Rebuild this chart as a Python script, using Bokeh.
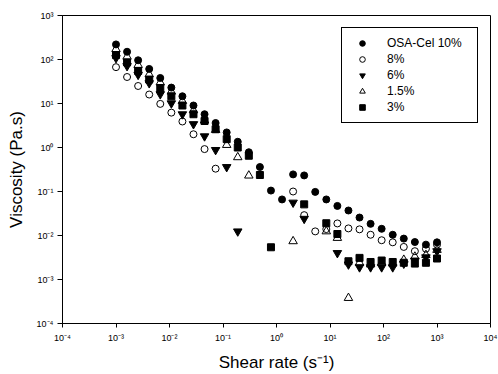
import numpy as np
from bokeh.plotting import figure
from bokeh.models import (Range1d, FixedTicker, CustomJSTickFormatter, Legend,
                          LegendItem, ColumnDataSource)
from bokeh.embed import file_html
from bokeh.resources import INLINE

# ---- data ----
shear_rate = [0.001, 0.00161, 0.002593, 0.004175, 0.006723, 0.010826, 0.017433,
              0.028072, 0.045204, 0.07279, 0.11721, 0.188739, 0.30392, 0.48939,
              0.788046, 1.269, 2.0434, 3.2903, 5.2983, 8.5316, 13.738, 22.122,
              35.622, 57.362, 92.367, 148.74, 239.5, 385.66, 621.02, 1000.0]

osa_10 = [220, 150, 96, 61, 38, 23, 14.6, 9.0, 5.7, 3.6, 2.2, 1.35, 0.78, 0.36,
          0.105, 0.066, 0.245, 0.232, 0.098, 0.066, 0.047, 0.037, 0.0256, 0.0184,
          0.0142, 0.0104, 0.0085, 0.0071, 0.0062, 0.0070]
osa_8 = [67, 40, 25, 16, 9.8, 6.2, 3.9, 2.0, 0.92, 0.33, None, None, None, None,
         None, None, 0.10, 0.029, 0.0124, 0.014, 0.0188, 0.0145, 0.0138, 0.0104,
         0.0078, 0.0070, 0.0055, 0.0044, 0.0050, 0.0062]
osa_6 = [108, 71, 45, 29, 16.3, 10.1, 5.7, 3.4, 1.8, 0.88, 0.36, 0.0124, None, None,
         None, None, 0.056, 0.024, None, None, 0.0040, 0.0022, 0.0019, 0.0019,
         0.0019, 0.0019, 0.0023, 0.0027, 0.0032, 0.0044]
osa_15 = [172, 116, 75, 46, 30, 18.6, 11.4, 7.0, 4.1, 2.5, 1.14, 0.60, 0.23, None,
          None, None, 0.0074, None, None, 0.0124, 0.0088, 0.00038, 0.0024, 0.0022,
          0.0024, 0.0023, 0.0028, 0.0033, 0.0036, 0.0047]
osa_3 = [126, 86, 55, 35, 22.5, 14.6, 9.0, 5.7, 4.0, 2.6, 1.55, 1.0, 0.65, 0.237,
         0.0054, None, None, 0.051, None, 0.019, 0.0108, 0.0026, 0.0031, 0.0025,
         0.0027, 0.0025, 0.0024, 0.0023, 0.0024, 0.0030]

labels = ["OSA-Cel 10%", "8%", "6%", "1.5%", "3%"]
x_ticks = [1e-4, 1e-3, 1e-2, 1e-1, 1e0, 1e1, 1e2, 1e3, 1e4]
y_ticks = [1e-4, 1e-3, 1e-2, 1e-1, 1e0, 1e1, 1e2, 1e3]

FONT = "Liberation Sans"

p = figure(width=498, height=374, x_axis_type="log", y_axis_type="log",
           x_range=Range1d(1e-4, 1e4), y_range=Range1d(1e-4, 1e3),
           output_backend="svg", toolbar_location=None,
           min_border_left=62, min_border_right=8, min_border_top=15,
           min_border_bottom=47)
p.title.visible = False
p.xgrid.visible = False
p.ygrid.visible = False
p.outline_line_color = "black"
p.outline_line_alpha = 1
p.outline_line_width = 1
p.background_fill_color = "white"
p.border_fill_color = "white"


def src(vals):
    y = np.array([np.nan if v is None else v for v in vals], dtype=float)
    x = np.array(shear_rate, dtype=float)
    m = ~np.isnan(y)
    return ColumnDataSource(dict(x=x[m], y=y[m]))


r10 = p.scatter("x", "y", source=src(osa_10), marker="circle", size=7,
                fill_color="black", line_color="black")
r8 = p.scatter("x", "y", source=src(osa_8), marker="circle", size=7,
               fill_color=None, line_color="black", line_width=1)
r6 = p.scatter("x", "y", source=src(osa_6), marker="inverted_triangle", size=8.5,
               fill_color="black", line_color="black")
r15 = p.scatter("x", "y", source=src(osa_15), marker="triangle", size=8.5,
                fill_color=None, line_color="black", line_width=1)
r3 = p.scatter("x", "y", source=src(osa_3), marker="square", size=7,
               fill_color="black", line_color="black")

fmt_code = """
const sup = {'-':'\u207b','0':'\u2070','1':'\u00b9','2':'\u00b2','3':'\u00b3',
             '4':'\u2074','5':'\u2075','6':'\u2076','7':'\u2077','8':'\u2078','9':'\u2079'};
const e = Math.round(Math.log10(tick));
return '10' + String(e).split('').map(c => sup[c]).join('');
"""

for ax, ticks in ((p.xaxis[0], x_ticks), (p.yaxis[0], y_ticks)):
    ax.ticker = FixedTicker(ticks=ticks)
    ax.formatter = CustomJSTickFormatter(code=fmt_code)
    ax.minor_tick_line_color = None
    ax.major_tick_in = 0
    ax.major_tick_out = 5
    ax.major_tick_line_color = "black"
    ax.axis_line_color = "black"
    ax.major_label_text_font = FONT
    ax.major_label_text_font_size = "9px"
    ax.major_label_text_color = "black"
    ax.axis_label_text_font = FONT
    ax.axis_label_text_font_size = "17px"
    ax.axis_label_text_font_style = "normal"
    ax.axis_label_text_color = "black"

p.xaxis[0].axis_label = "Shear rate (s\u207b\u00b9)"
p.yaxis[0].axis_label = "Viscosity (Pa.s)"
p.xaxis[0].major_tick_out = 4
p.xaxis[0].major_label_standoff = 5
p.xaxis[0].axis_label_standoff = 7
p.yaxis[0].major_label_standoff = 4
p.yaxis[0].axis_label_standoff = 8

legend = Legend(
    items=[LegendItem(label=labels[0], renderers=[r10]),
           LegendItem(label=labels[1], renderers=[r8]),
           LegendItem(label=labels[2], renderers=[r6]),
           LegendItem(label=labels[3], renderers=[r15]),
           LegendItem(label=labels[4], renderers=[r3])],
    location="top_right", padding=8, spacing=2, margin=12,
    glyph_width=24, glyph_height=14, label_height=14, label_width=82,
    label_standoff=13, label_text_font=FONT, label_text_font_size="12px",
    label_text_color="black", border_line_color="black", border_line_width=1,
    border_line_alpha=1, background_fill_color="white", background_fill_alpha=1)
p.add_layout(legend)

open("out.html", "w").write(file_html(p, INLINE))
